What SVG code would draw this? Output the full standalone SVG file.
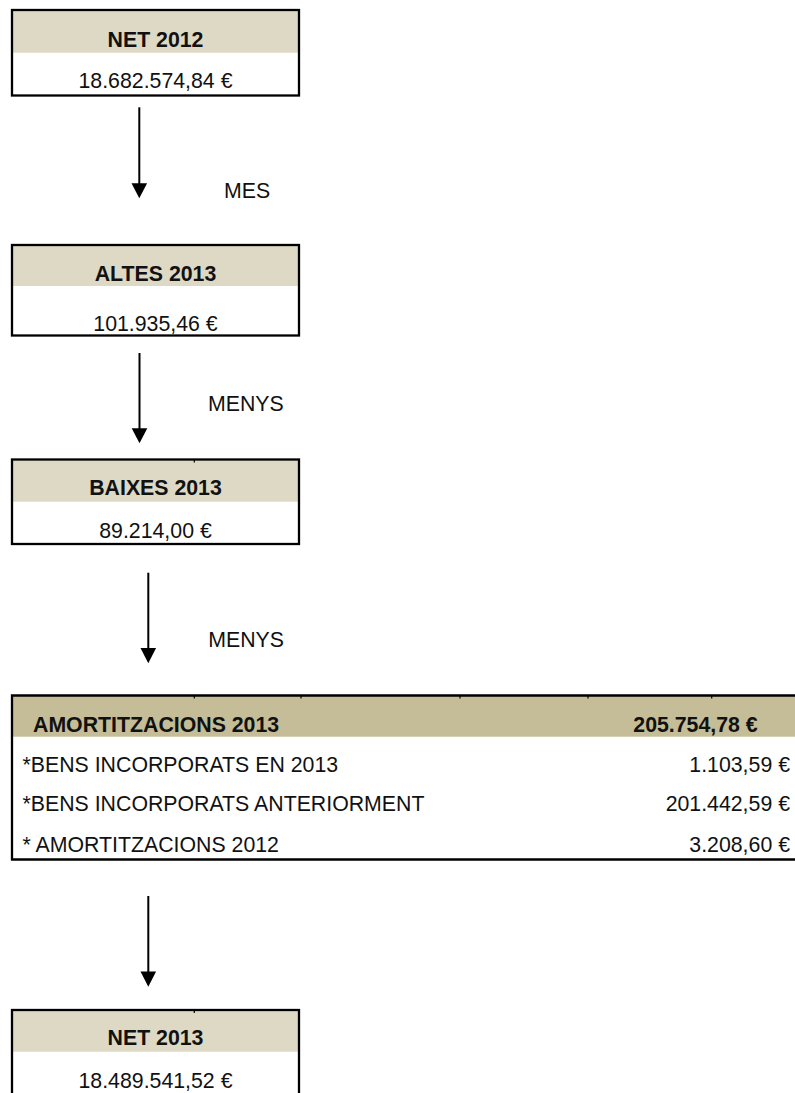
<svg xmlns="http://www.w3.org/2000/svg" width="795" height="1093" viewBox="0 0 795 1093">
  <defs>
    <style>
      .hdr { fill: #DDD9C4; }
      .hdr2 { fill: #C4BD97; }
      .frame { fill: none; stroke: #000; stroke-width: 2.3; }
      .tick { stroke: #000; stroke-width: 1.2; }
      .t { font-family: "Liberation Sans", Arial, sans-serif; font-size: 21.3px; fill: #111; }
      .b { font-weight: bold; }
      .c { text-anchor: middle; }
      .r { text-anchor: end; }
      .conn { stroke: #000; stroke-width: 2; fill: none; }
      .head { fill: #000; }
    </style>
  </defs>

  <g id="net2012">
    <rect class="hdr" x="12" y="10" width="287" height="42.7"/>
    <rect class="frame" x="12" y="10" width="287" height="85.5"/>
    <text class="t b c" x="155.5" y="47">NET 2012</text>
    <text class="t c" x="155.5" y="88.3">18.682.574,84 €</text>
  </g>

  <g id="altes2013">
    <rect class="hdr" x="12" y="245" width="287" height="41"/>
    <rect class="frame" x="12" y="245" width="287" height="90.5"/>
    <text class="t b c" x="155.5" y="280.7">ALTES 2013</text>
    <text class="t c" x="155.5" y="330.7">101.935,46 €</text>
  </g>

  <g id="baixes2013">
    <rect class="hdr" x="12" y="459.5" width="287" height="42.2"/>
    <rect class="frame" x="12" y="459.5" width="287" height="84.5"/>
    <line class="tick" x1="194.3" y1="460" x2="194.3" y2="462.5"/>
    <text class="t b c" x="155.5" y="495">BAIXES 2013</text>
    <text class="t c" x="155.5" y="538.3">89.214,00 €</text>
  </g>

  <g id="amortitzacions2013">
    <rect class="hdr2" x="12" y="695.5" width="783" height="41.2"/>
    <path class="frame" d="M796,695.5 H12 V859.5 H796"/>
    <line class="tick" x1="194.3" y1="696" x2="194.3" y2="698.5"/>
    <line class="tick" x1="301" y1="696" x2="301" y2="698.5"/>
    <line class="tick" x1="460" y1="696" x2="460" y2="698.5"/>
    <line class="tick" x1="588" y1="696" x2="588" y2="698.5"/>
    <line class="tick" x1="711.7" y1="696" x2="711.7" y2="698.5"/>
    <text class="t b" x="33" y="731.7">AMORTITZACIONS 2013</text>
    <text class="t b r" x="757.7" y="731.7">205.754,78 €</text>
    <text class="t" x="22.5" y="771.7">*BENS INCORPORATS EN 2013</text>
    <text class="t r" x="790" y="771.7">1.103,59 €</text>
    <text class="t" x="22.5" y="811.3">*BENS INCORPORATS ANTERIORMENT</text>
    <text class="t r" x="790" y="811.3">201.442,59 €</text>
    <text class="t" x="22.5" y="851.7">* AMORTITZACIONS 2012</text>
    <text class="t r" x="790" y="851.7">3.208,60 €</text>
  </g>

  <g id="net2013">
    <rect class="hdr" x="12" y="1010" width="287" height="41.7"/>
    <rect class="frame" x="12" y="1010" width="287" height="90"/>
    <line class="tick" x1="194.3" y1="1010.5" x2="194.3" y2="1013"/>
    <text class="t b c" x="155.5" y="1045">NET 2013</text>
    <text class="t c" x="155.5" y="1088.3">18.489.541,52 €</text>
  </g>

  <g id="connectors">
    <line class="conn" x1="139.3" y1="107.3" x2="139.3" y2="184"/>
    <polygon class="head" points="131.5,183.3 147.1,183.3 139.3,198.3"/>
    <text class="t" x="224" y="197.7">MES</text>

    <line class="conn" x1="139.5" y1="353" x2="139.5" y2="429"/>
    <polygon class="head" points="131.7,428.3 147.3,428.3 139.5,443.3"/>
    <text class="t" x="208" y="411">MENYS</text>

    <line class="conn" x1="148.3" y1="572.7" x2="148.3" y2="648.5"/>
    <polygon class="head" points="140.5,648 156.1,648 148.3,663.3"/>
    <text class="t" x="208.3" y="647.3">MENYS</text>

    <line class="conn" x1="148.3" y1="896" x2="148.3" y2="972"/>
    <polygon class="head" points="140.5,971.5 156.1,971.5 148.3,986.7"/>
  </g>
</svg>
